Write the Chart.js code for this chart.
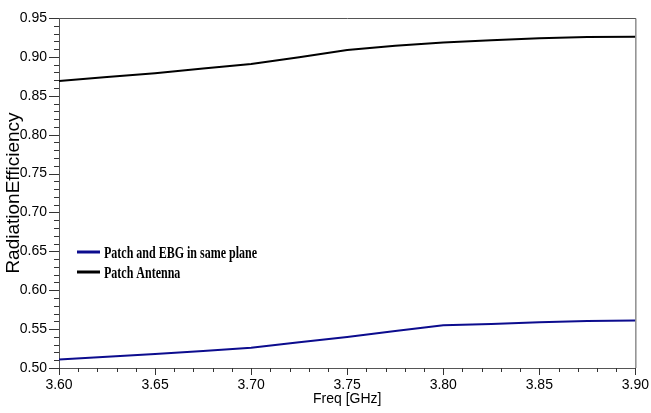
<!DOCTYPE html>
<html>
<head>
<meta charset="utf-8">
<title>Radiation Efficiency vs Frequency</title>
<script src="https://cdn.jsdelivr.net/npm/chart.js@4.4.1/dist/chart.umd.min.js"></script>
<style>
  html, body { margin: 0; padding: 0; background: #ffffff; overflow: hidden; }
  #wrap { width: 651px; height: 413px; position: relative; }
  canvas { display: block; }
</style>
</head>
<body>
<div id="wrap"><canvas id="chart" width="651" height="413"></canvas></div>
<script>
// Frequency sweep (GHz) shared by both simulated curves
const freqGHz = [3.600, 3.625, 3.650, 3.675, 3.700, 3.725, 3.750, 3.775, 3.800, 3.825, 3.850, 3.875, 3.900];

// Radiation efficiency, patch with EBG in the same plane
const ebgSamePlane = [0.511, 0.5145, 0.518, 0.522, 0.526, 0.533, 0.540, 0.5475, 0.555, 0.5565, 0.5587, 0.5605, 0.561];

// Radiation efficiency, plain patch antenna
const patchAntenna = [0.869, 0.874, 0.879, 0.885, 0.891, 0.8995, 0.909, 0.9144, 0.9185, 0.9215, 0.924, 0.9256, 0.926];

const seriesLabels = ['Patch and EBG in same plane', 'Patch Antenna'];
const seriesColors = ['#0c0c8e', '#000000'];

// Major tick positions / labels
const xTicks = [3.60, 3.65, 3.70, 3.75, 3.80, 3.85, 3.90];
const yTicks = [0.50, 0.55, 0.60, 0.65, 0.70, 0.75, 0.80, 0.85, 0.90, 0.95];

const AXIS_COLOR = '#555555';
const SANS = '"Liberation Sans", Arial, sans-serif';
const tickFont = { family: SANS, size: 14 };

// Frame on top/right plus major and minor tick marks on both axes
const frameAndTicks = {
  id: 'frameAndTicks',
  afterDraw(chart) {
    const { ctx, chartArea: a, scales: { x, y } } = chart;
    ctx.save();
    ctx.strokeStyle = AXIS_COLOR;
    ctx.lineWidth = 1;
    ctx.beginPath();
    ctx.moveTo(a.left, a.top + 0.5);
    ctx.lineTo(a.right + 0.5, a.top + 0.5);
    ctx.lineTo(a.right + 0.5, a.bottom);
    ctx.stroke();

    ctx.strokeStyle = '#333333';
    ctx.beginPath();
    const xStep = 0.01;
    for (let v = x.min; v <= x.max + 1e-9; v += xStep) {
      const px = Math.round(x.getPixelForValue(v)) + 0.5;
      const major = Math.abs(v / 0.05 - Math.round(v / 0.05)) < 1e-6;
      ctx.moveTo(px, a.bottom);
      ctx.lineTo(px, a.bottom + (major ? 7 : 4));
    }
    const yStep = 0.01;
    for (let v = y.min; v <= y.max + 1e-9; v += yStep) {
      const py = Math.round(y.getPixelForValue(v)) + 0.5;
      const major = Math.abs(v / 0.05 - Math.round(v / 0.05)) < 1e-6;
      ctx.moveTo(a.left, py);
      ctx.lineTo(a.left - (major ? 10 : 5), py);
    }
    ctx.stroke();
    ctx.restore();
  }
};

// Legend drawn inside the plot, lower left, condensed serif bold
const insideLegend = {
  id: 'insideLegend',
  afterDraw(chart) {
    const { ctx, chartArea: a, scales: { y } } = chart;
    const x0 = a.left + 18;
    const lineLen = 23;
    const rowGap = 20;
    const yFirst = y.getPixelForValue(0.5) - 116;
    ctx.save();
    chart.data.datasets.forEach((ds, i) => {
      const cy = yFirst + i * rowGap;
      ctx.strokeStyle = ds.borderColor;
      ctx.lineWidth = 3;
      ctx.beginPath();
      ctx.moveTo(x0, cy);
      ctx.lineTo(x0 + lineLen, cy);
      ctx.stroke();
      ctx.save();
      ctx.translate(x0 + lineLen + 4, cy + 2);
      ctx.scale(0.75, 1);
      ctx.fillStyle = '#000000';
      ctx.font = 'bold 16px "Liberation Serif", "Times New Roman", serif';
      ctx.textBaseline = 'middle';
      ctx.fillText(ds.label, 0, 0);
      ctx.restore();
    });
    ctx.restore();
  }
};

const toPoints = (vals) => freqGHz.map((f, i) => ({ x: f, y: vals[i] }));

new Chart(document.getElementById('chart'), {
  type: 'line',
  data: {
    datasets: [
      { label: seriesLabels[0], data: toPoints(ebgSamePlane), borderColor: seriesColors[0], borderWidth: 2, pointRadius: 0, tension: 0, fill: false },
      { label: seriesLabels[1], data: toPoints(patchAntenna), borderColor: seriesColors[1], borderWidth: 2, pointRadius: 0, tension: 0, fill: false }
    ]
  },
  options: {
    responsive: false,
    animation: false,
    devicePixelRatio: 1,
    layout: { padding: { top: 18, right: 13, left: 0, bottom: 0 } },
    plugins: { legend: { display: false }, tooltip: { enabled: false } },
    scales: {
      x: {
        type: 'linear',
        min: 3.6,
        max: 3.9,
        afterBuildTicks: (s) => { s.ticks = xTicks.map(v => ({ value: v })); },
        afterFit: (s) => { s.height = 45; },
        grid: { drawOnChartArea: false, tickLength: 7, tickColor: 'rgba(0,0,0,0)' },
        border: { color: AXIS_COLOR, width: 1 },
        ticks: { font: tickFont, color: '#000000', padding: 2, autoSkip: false, maxRotation: 0, callback: (v) => Number(v).toFixed(2) },
        title: { display: true, text: 'Freq [GHz]', color: '#000000', font: { family: SANS, size: 14 }, padding: { top: 0, bottom: 5 } }
      },
      y: {
        type: 'linear',
        min: 0.5,
        max: 0.95,
        afterBuildTicks: (s) => { s.ticks = yTicks.map(v => ({ value: v })); },
        afterFit: (s) => { s.width = 59; },
        grid: { drawOnChartArea: false, tickLength: 10, tickColor: 'rgba(0,0,0,0)' },
        border: { color: AXIS_COLOR, width: 1 },
        ticks: { font: tickFont, color: '#000000', padding: 2, autoSkip: false, callback: (v) => Number(v).toFixed(2) },
        title: { display: true, text: 'RadiationEfficiency', color: '#000000', font: { family: SANS, size: 19 }, padding: { top: 2, bottom: 0 } }
      }
    }
  },
  plugins: [frameAndTicks, insideLegend]
});
</script>
</body>
</html>
